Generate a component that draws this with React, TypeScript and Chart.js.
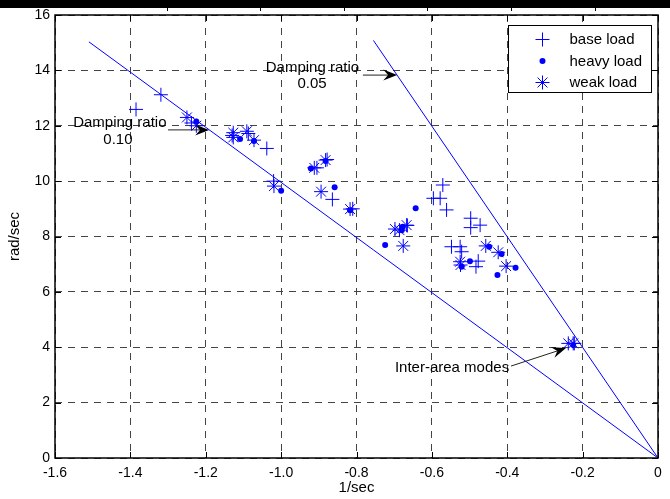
import React, { useEffect, useRef } from "react";
import { Chart, registerables } from "chart.js";
import { drawPoint } from "chart.js/helpers";

Chart.register(...registerables);

// ---------- data ----------
const baseLoadX = [-1.385, -1.319, -1.238, -1.13, -1.087, -1.038, -1.02, -0.905, -0.878, -0.864, -0.81, -0.665, -0.571, -0.596, -0.578, -0.561, -0.497, -0.497, -0.472, -0.548, -0.525, -0.521, -0.477, -0.483, -0.222];
const baseLoadY = [12.59, 13.12, 12.1, 11.65, 11.72, 11.18, 10.0, 10.48, 10.78, 9.34, 9.0, 8.4, 9.86, 9.38, 9.38, 8.96, 8.66, 8.32, 8.41, 7.63, 7.63, 7.45, 7.11, 6.91, 4.14];

const heavyLoadX = [-1.225, -1.109, -1.072, -1.0, -0.921, -0.882, -0.858, -0.817, -0.643, -0.68, -0.677, -0.724, -0.521, -0.499, -0.448, -0.415, -0.378, -0.426, -0.225];
const heavyLoadY = [12.15, 11.52, 11.45, 9.65, 10.46, 10.73, 9.78, 8.95, 9.02, 8.23, 8.35, 7.69, 6.91, 7.11, 7.63, 7.37, 6.87, 6.61, 4.08];

const weakLoadX = [-1.25, -1.225, -1.127, -1.127, -1.091, -1.072, -1.019, -0.912, -0.882, -0.894, -0.817, -0.698, -0.686, -0.667, -0.676, -0.525, -0.524, -0.457, -0.424, -0.403, -0.238, -0.225];
const weakLoadY = [12.3, 12.0, 11.58, 11.75, 11.8, 11.48, 9.82, 10.48, 10.76, 9.62, 8.99, 8.27, 8.23, 8.41, 7.66, 7.09, 6.97, 7.66, 7.43, 6.93, 4.14, 4.14];

// constant damping ratio lines (from origin)
const zeta10X = [-1.51, 0];
const zeta10Y = [15.03, 0];
const zeta05X = [-0.755, 0];
const zeta05Y = [15.08, 0];

const seriesLabels = ["base load", "heavy load", "weak load"];
const xTickRange = { min: -1.6, max: 0, step: 0.2 };
const yTickRange = { min: 0, max: 16, step: 2 };

// annotations (data coordinates)
const annotationTexts = [
  { text: "Damping ratio", x: -1.428, y: 12.1, align: "center" },
  { text: "0.10", x: -1.433, y: 11.48, align: "center" },
  { text: "Damping ratio", x: -0.917, y: 14.08, align: "center" },
  { text: "0.05", x: -0.918, y: 13.5, align: "center" },
  { text: "Inter-area modes", x: -0.395, y: 3.25, align: "right" },
];
const annotationArrows = [
  { x1: -1.3, y1: 11.85, x2: -1.191, y2: 11.85 },
  { x1: -0.783, y1: 13.83, x2: -0.692, y2: 13.83 },
  { x1: -0.39, y1: 3.32, x2: -0.244, y2: 3.97 },
];

const BLUE = "#0000ff";
const FONT = "'Liberation Sans', Arial, sans-serif";

function zip(xs: number[], ys: number[]) {
  return xs.map((x, i) => ({ x, y: ys[i] }));
}

function drawArrow(ctx: CanvasRenderingContext2D, x1: number, y1: number, x2: number, y2: number) {
  const a = Math.atan2(y2 - y1, x2 - x1);
  const c = Math.cos(a), s = Math.sin(a);
  const L = 14, W = 5.5, N = 0.65;
  ctx.strokeStyle = "#222";
  ctx.lineWidth = 1;
  ctx.beginPath();
  ctx.moveTo(x1, y1);
  ctx.lineTo(x2 - L * N * c, y2 - L * N * s);
  ctx.stroke();
  ctx.fillStyle = "#000";
  ctx.beginPath();
  ctx.moveTo(x2, y2);
  ctx.lineTo(x2 - L * c + W * s, y2 - L * s - W * c);
  ctx.lineTo(x2 - L * N * c, y2 - L * N * s);
  ctx.lineTo(x2 - L * c - W * s, y2 - L * s + W * c);
  ctx.closePath();
  ctx.fill();
}

const decorPlugin = {
  id: "decor",
  afterDatasetsDraw(chart: any) {
    const { ctx, chartArea: ca, scales } = chart;
    const xs = scales.x, ys = scales.y;
    ctx.save();
    // frame
    ctx.strokeStyle = "#000";
    ctx.lineWidth = 1.5;
    ctx.strokeRect(ca.left, ca.top, ca.right - ca.left, ca.bottom - ca.top);
    // inward ticks
    ctx.lineWidth = 1;
    ctx.beginPath();
    xs.ticks.forEach((t: any) => {
      const px = Math.round(xs.getPixelForValue(t.value)) + 0.5;
      ctx.moveTo(px, ca.bottom); ctx.lineTo(px, ca.bottom - 6);
      ctx.moveTo(px, ca.top); ctx.lineTo(px, ca.top + 6);
    });
    ys.ticks.forEach((t: any) => {
      const py = Math.round(ys.getPixelForValue(t.value)) + 0.5;
      ctx.moveTo(ca.left, py); ctx.lineTo(ca.left + 6, py);
      ctx.moveTo(ca.right, py); ctx.lineTo(ca.right - 6, py);
    });
    ctx.stroke();

    // annotations
    ctx.fillStyle = "#000";
    ctx.font = `15px ${FONT}`;
    ctx.textBaseline = "middle";
    annotationTexts.forEach((a) => {
      ctx.textAlign = a.align as CanvasTextAlign;
      ctx.fillText(a.text, xs.getPixelForValue(a.x), ys.getPixelForValue(a.y));
    });
    annotationArrows.forEach((a) => {
      drawArrow(ctx, xs.getPixelForValue(a.x1), ys.getPixelForValue(a.y1), xs.getPixelForValue(a.x2), ys.getPixelForValue(a.y2));
    });

    // legend
    const bw = 143, bh = 67;
    const bx = Math.round(ca.right - 7 - bw) + 0.5;
    const by = Math.round(ca.top + 10) + 0.5;
    ctx.fillStyle = "#fff";
    ctx.fillRect(bx, by, bw, bh);
    ctx.strokeStyle = "#000";
    ctx.lineWidth = 1;
    ctx.strokeRect(bx, by, bw, bh);
    const styles = [
      { pointStyle: "cross", radius: 7 },
      { pointStyle: "circle", radius: 3 },
      { pointStyle: "star", radius: 7 },
    ];
    seriesLabels.forEach((lab, i) => {
      const cy = by + 14 + i * 21.5;
      const cx = bx + 34;
      ctx.strokeStyle = BLUE;
      ctx.fillStyle = BLUE;
      ctx.lineWidth = 1;
      drawPoint(ctx, { pointStyle: styles[i].pointStyle as any, radius: styles[i].radius, rotation: 0, borderWidth: i === 1 ? 0 : 1 }, cx, cy);
      ctx.fillStyle = "#000";
      ctx.font = `15px ${FONT}`;
      ctx.textAlign = "left";
      ctx.textBaseline = "middle";
      ctx.fillText(lab, bx + 61, cy + 0.5);
    });
    ctx.restore();
  },
};

export default function App() {
  const ref = useRef<HTMLCanvasElement | null>(null);

  useEffect(() => {
    document.body.style.margin = "0";
    if (!ref.current) return;
    const chart = new Chart(ref.current, {
      type: "scatter",
      data: {
        datasets: [
          {
            label: "zeta 0.10",
            data: zip(zeta10X, zeta10Y),
            showLine: true,
            borderColor: BLUE,
            borderWidth: 1,
            pointRadius: 0,
            order: 4,
          } as any,
          {
            label: "zeta 0.05",
            data: zip(zeta05X, zeta05Y),
            showLine: true,
            borderColor: BLUE,
            borderWidth: 1,
            pointRadius: 0,
            order: 4,
          },
          {
            label: seriesLabels[0],
            data: zip(baseLoadX, baseLoadY),
            pointStyle: "cross",
            pointRadius: 7,
            borderColor: BLUE,
            backgroundColor: BLUE,
            pointBorderWidth: 1,
          },
          {
            label: seriesLabels[1],
            data: zip(heavyLoadX, heavyLoadY),
            pointStyle: "circle",
            pointRadius: 3,
            borderColor: BLUE,
            backgroundColor: BLUE,
            pointBorderWidth: 0,
          },
          {
            label: seriesLabels[2],
            data: zip(weakLoadX, weakLoadY),
            pointStyle: "star",
            pointRadius: 7,
            borderColor: BLUE,
            backgroundColor: BLUE,
            pointBorderWidth: 1,
          },
        ],
      },
      options: {
        animation: false,
        responsive: false,
        layout: { padding: { top: 15, right: 12, left: 0, bottom: 0 } },
        plugins: { legend: { display: false }, tooltip: { enabled: false } },
        scales: {
          x: {
            type: "linear",
            min: xTickRange.min,
            max: xTickRange.max,
            ticks: {
              stepSize: xTickRange.step,
              color: "#000",
              padding: 7,
              font: { family: FONT, size: 14 },
              maxRotation: 0,
            },
            grid: { color: "#444", lineWidth: 1, drawTicks: false },
            border: { display: false, dash: [7, 6] },
            title: {
              display: true,
              text: "1/sec",
              color: "#000",
              font: { family: FONT, size: 15 },
              padding: { top: 0, bottom: 2 },
            },
            afterFit: (s: any) => {
              s.height = 41;
            },
          },
          y: {
            type: "linear",
            min: yTickRange.min,
            max: yTickRange.max,
            ticks: {
              stepSize: yTickRange.step,
              color: "#000",
              padding: 5,
              font: { family: FONT, size: 14 },
            },
            grid: { color: "#444", lineWidth: 1, drawTicks: false },
            border: { display: false, dash: [7, 6] },
            title: {
              display: true,
              text: "rad/sec",
              color: "#000",
              font: { family: FONT, size: 15 },
              padding: { top: 6, bottom: 0 },
            },
            afterFit: (s: any) => {
              s.width = 55;
            },
          },
        },
      },
      plugins: [decorPlugin],
    });
    return () => chart.destroy();
  }, []);

  const tableLines = [167, 260, 344, 427, 511, 595];
  return (
    <div style={{ position: "relative", width: 670, height: 499, background: "#fff" }}>
      <canvas ref={ref} width={670} height={499} style={{ display: "block" }} />
      <div style={{ position: "absolute", left: 0, top: 0, width: 670, height: 8, background: "#000" }} />
      {tableLines.map((x) => (
        <div key={x} style={{ position: "absolute", left: x, top: 8, width: 1, height: 3, background: "#000" }} />
      ))}
    </div>
  );
}
